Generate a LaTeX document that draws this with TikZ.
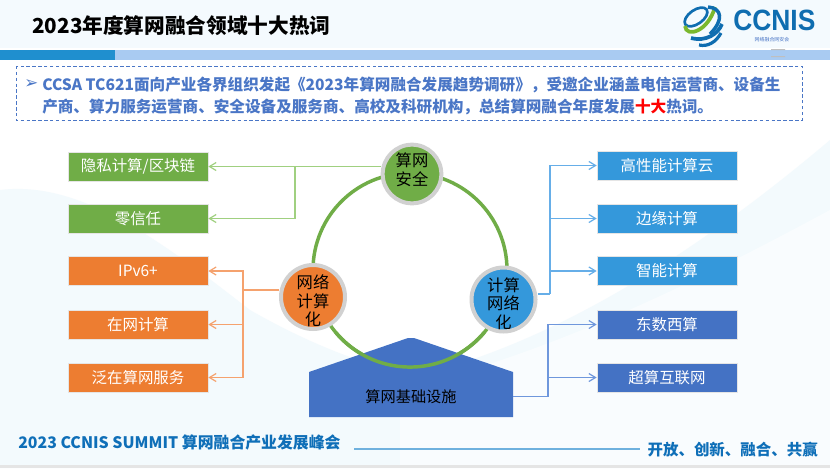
\documentclass[tikz,border=0pt]{standalone}
\usepackage{fontspec}
\setmainfont{Noto Sans CJK SC}
\newfontfamily\logofont{Liberation Sans}
\usetikzlibrary{arrows.meta}
\definecolor{cgreen}{HTML}{70AD47}
\definecolor{corange}{HTML}{ED7D31}
\definecolor{cblue}{HTML}{3498DB}
\definecolor{cdark}{HTML}{4472C4}
\definecolor{ctext}{HTML}{4A76C6}
\definecolor{cfoot}{HTML}{0F6FB8}
\definecolor{lgreen}{HTML}{A0D080}
\definecolor{lorange}{HTML}{F5A26E}
\definecolor{lblue}{HTML}{66AEE8}
\definecolor{ldark}{HTML}{6F97DC}
\definecolor{bardark}{HTML}{1F8FCF}
\definecolor{barlight}{HTML}{A9CBF2}
\definecolor{footline}{HTML}{6FB1DE}
\definecolor{logoblue}{HTML}{0F6DB0}
\definecolor{logogreen}{HTML}{7AB82E}
\definecolor{paleA}{HTML}{F4FAFE}
\definecolor{paleB}{HTML}{F3FAFD}
\tikzset{
 x=0.75pt,y=-0.75pt,
 tagbox/.style={minimum width=105pt,minimum height=21.6pt,inner sep=0pt,text=white,font=\fontsize{11.6pt}{14pt}\selectfont,draw=black!10,line width=.5pt},
 hub/.style={circle,inner sep=0pt,line width=3pt,draw=black!18},
 hubtext/.style={inner sep=0pt,text=black,align=center,font=\fontsize{12.2pt}{14pt}\selectfont},
 link/.style={line width=.9pt,-{Straight Barb[length=5pt,width=6pt]}},
 trunk/.style={line width=.9pt},
}
\begin{document}
\begin{tikzpicture}
\useasboundingbox (0,0) rectangle (830,468);
\fill[white] (0,0) rectangle (830,468);
% soft background
\fill[paleA] (0,0) rectangle (830,48);
\fill[paleB] (0,190) .. controls (80,180) and (160,240) .. (250,310) .. controls (320,350) and (380,370) .. (420,375) .. controls (560,340) and (700,250) .. (830,140) -- (830,468) -- (0,468) -- cycle;
\fill[white,opacity=.55] (400,390) .. controls (560,350) and (700,280) .. (830,210) -- (830,468) -- (400,468) -- cycle;
\fill[black!10] (0,465) rectangle (830,468);
% header
\node[anchor=west,inner sep=0pt,font=\bfseries\fontsize{15.5pt}{18pt}\selectfont] (title) at (32,26) {2023年度算网融合领域十大热词};
\fill[bardark] (0,50) rectangle (115,59.5);
\fill[barlight] (115,50) rectangle (830,59.5);
% logo
\fill[black!25] (771,49) rectangle (785,50) (771,56) rectangle (785,57);
\draw[logoblue,line width=2pt,rotate around={35:(696,17)}] (696,17) ellipse[x radius=13,y radius=7];
\draw[logogreen,line width=2.8pt] (685,26) .. controls (686,38) and (708,32) .. (715,7);
\draw[logoblue,line width=2.6pt] (708,7) .. controls (722,8) and (724,20) .. (710,34);
\draw[logoblue,line width=2.8pt] (722,24) .. controls (718,34) and (706,42) .. (691,38);
\draw[logoblue,line width=2.4pt] (721,33) .. controls (716,42) and (708,47) .. (699,45);
\node[anchor=west,inner sep=0pt,text=logoblue,font=\logofont\bfseries\fontsize{22pt}{23pt}\selectfont,xscale=.9] (logo) at (733,20.5) {CCNIS};
\node[inner sep=0pt,text=ctext,font=\fontsize{3.7pt}{4pt}\selectfont] (logosub) at (772,39.5) {网络融合网安会};
% intro
\draw[ctext,line width=.7pt,dash pattern=on 2.6pt off 1.8pt] (16,66) rectangle (802,120);
\node[anchor=west,inner sep=0pt,text=ctext,font=\fontsize{12.5pt}{13pt}\selectfont] (bullet) at (24,84.5) {\fontspec{DejaVu Sans}➢};
\node[anchor=west,inner sep=0pt,text=ctext,font=\bfseries\fontsize{11.7pt}{14pt}\selectfont] (l1) at (42,84.5) {CCSA TC621面向产业各界组织发起《2023年算网融合发展趋势调研》，受邀企业涵盖电信运营商、设备生};
\node[anchor=west,inner sep=0pt,text=ctext,font=\bfseries\fontsize{11.7pt}{14pt}\selectfont] (l2) at (42,106.5) {产商、算力服务运营商、安全设备及服务商、高校及科研机构，总结算网融合年度发展\textcolor{red}{十大}热词。};
% ring
\draw[cgreen,line width=2.6pt] (410,270) circle[radius=97];
% house
\fill[cdark] (309,372) -- (408,338) -- (414,338) -- (513,372) -- (513,417) -- (309,417) -- cycle;
\draw[cgreen,line width=2.6pt] (335.7,332.4) arc[start angle=140,end angle=40,radius=97];
\coordinate (houseR) at (513,396.5);
\node[inner sep=0pt,text=black,font=\fontsize{11.4pt}{13pt}\selectfont] (houselabel) at (411,397) {算网基础设施};
% hubs
\node[hub,fill=cgreen,minimum size=44pt] (sec) at (412,174) {};
\node[hubtext] (secT) at (412,170) {算网\\安全};
\node[hub,fill=corange,minimum size=48pt] (netc) at (313,297) {};
\node[hubtext] (netcT) at (313,301) {网络\\计算\\化};
\node[hub,fill=cblue,minimum size=48pt] (cnet) at (503.5,299.5) {};
\node[hubtext] (cnetT) at (503.5,303.5) {计算\\网络\\化};
% left boxes
\node[tagbox,fill=cgreen] (a1) at (138,166.5) {隐私计算/区块链};
\node[tagbox,fill=cgreen] (a2) at (138,218.5) {零信任};
\node[tagbox,fill=corange] (b1) at (138,271) {IPv6+};
\node[tagbox,fill=corange] (b2) at (138,324.5) {在网计算};
\node[tagbox,fill=corange] (b3) at (138,377.5) {泛在算网服务};
% right boxes
\node[tagbox,fill=cblue] (c1) at (667,165.5) {高性能计算云};
\node[tagbox,fill=cblue] (c2) at (667,218.5) {边缘计算};
\node[tagbox,fill=cblue] (c3) at (667,271) {智能计算};
\node[tagbox,fill=cdark] (d1) at (667,324.5) {东数西算};
\node[tagbox,fill=cdark] (d2) at (667,377.5) {超算互联网};
% connectors
\draw[link,lgreen] (sec.west |- a1.east) -- (a1.east);
\draw[link,lgreen] (295,166.5) |- (a2.east);
\draw[trunk,lorange] (netc.west |- 0,290) -- (243,290);
\draw[link,lorange] (243,290) |- (b1.east);
\draw[link,lorange] (243,290) |- (b2.east);
\draw[link,lorange] (243,290) |- (b3.east);
\draw[trunk,lblue] (cnet.east |- 0,294) -- (550,294);
\draw[link,lblue] (550,294) |- (c1.west);
\draw[link,lblue] (550,294) |- (c2.west);
\draw[link,lblue] (550,294) |- (c3.west);
\draw[trunk,ldark] (houseR) -- (548,396.5);
\draw[link,ldark] (548,396.5) |- (d1.west);
\draw[link,ldark] (548,396.5) |- (d2.west);
% footer
\node[anchor=west,inner sep=0pt,text=cfoot,font=\bfseries\fontsize{11.9pt}{13pt}\selectfont] (f1) at (18,442.5) {2023 CCNIS SUMMIT 算网融合产业发展峰会};
\node[anchor=east,inner sep=0pt,text=cfoot,font=\bfseries\fontsize{11.6pt}{13pt}\selectfont] (f2) at (818,450) {开放、创新、融合、共赢};
\fill[footline] (354,448.2) rectangle (640,449.8);
\end{tikzpicture}
\end{document}
